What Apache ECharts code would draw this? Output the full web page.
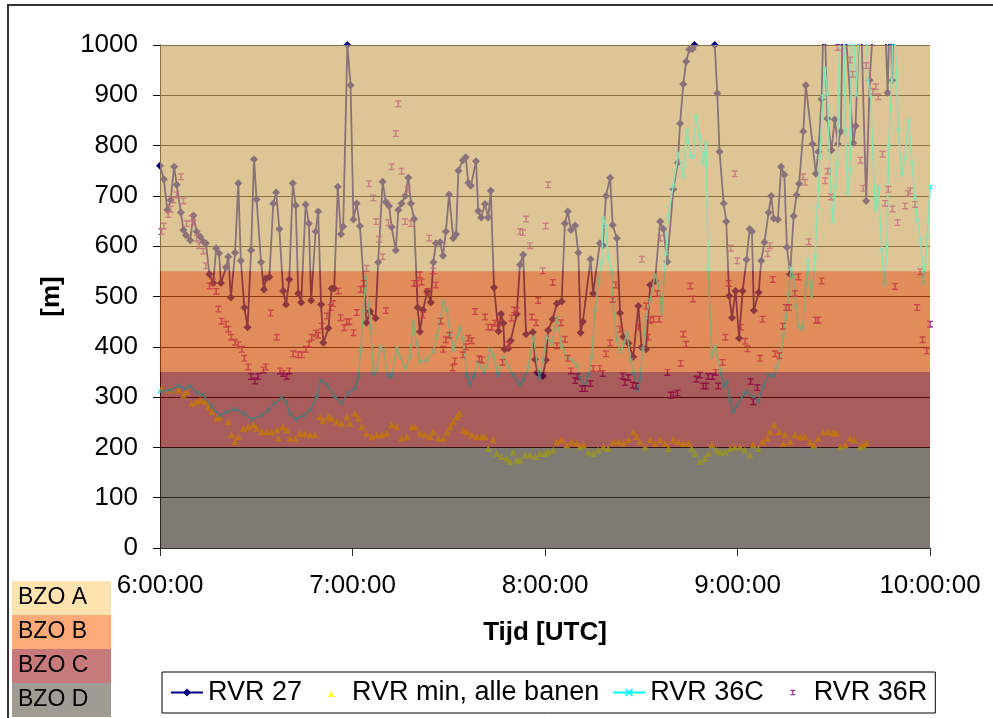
<!DOCTYPE html>
<html>
<head>
<meta charset="utf-8">
<script src="https://cdn.jsdelivr.net/npm/echarts@6/dist/echarts.min.js"></script>
<style>
  html, body { margin: 0; padding: 0; background: #fff; }
  #chart { width: 993px; height: 718px; }
</style>
</head>
<body>
<div id="chart"></div>
<script>
// Runway visual range, 06:00-10:00 UTC. X values are minutes after 06:00.
const rvr27 = [
  [0,760],[1.2,733],[2.3,672],[3.3,692],[4.4,758],[5.2,722],[6.5,667],[7.3,632],[8.1,622],[9.4,612],
  [10.4,661],[11.4,629],[12.5,619],[13.5,609],[14.3,606],[15.4,544],[16.6,527],[17.5,596],[18.4,586],[19.0,527],
  [20.6,558],[21.3,579],[22.1,498],[23.4,587],[24.4,725],[25.2,571],[26.3,478],[27.3,439],[28.4,592],[29.3,773],
  [30.1,693],[31.5,568],[32.4,514],[33.0,536],[34.1,539],[35.3,685],[36.2,707],[37.2,634],[38.4,511],[39.3,484],
  [40.3,534],[41.4,725],[42.3,681],[43.1,506],[44.0,488],[45.4,683],[46.4,645],[47.1,492],[48.5,629],[49.3,669],
  [50.2,484],[50.9,408],[52.5,437],[53.5,516],[54.3,516],[55.4,718],[56.4,624],[57.1,639],[58.4,1000],[59.4,920],
  [60.3,653],[61.3,685],[62.3,640],[64.4,448],[65.5,470],[67.2,457],[68.0,568],[69.4,728],[70.4,688],[71.4,680],
  [72.2,638],[73.5,592],[74.3,672],[75.3,685],[76.4,700],[77.4,736],[78.2,685],[79.2,654],[80.3,478],[81.0,430],
  [82.0,473],[83.3,510],[84.4,488],[85.2,568],[86.0,606],[87.3,608],[88.2,581],[89.1,629],[90.1,703],[91.4,616],
  [92.3,624],[93.0,750],[94.4,771],[95.3,777],[96.1,726],[96.9,720],[98.5,769],[99.2,670],[100.1,657],[101.3,684],
  [102.3,657],[103.1,710],[104.1,518],[105.5,431],[106.3,465],[107.0,447],[107.4,395],[108.6,397],[109.3,412],[111.2,465],
  [112.2,563],[113.2,583],[114.1,425],[116.2,429],[116.9,375],[117.6,349],[119.3,342],[120.3,374],[121.0,433],[122.4,455],
  [123.7,486],[125.2,490],[126.2,645],[127.1,669],[128.1,632],[129.4,641],[130.4,587],[131.1,428],[131.8,450],[134.2,574],
  [135.0,506],[137.1,606],[138.0,602],[139.0,700],[140.3,736],[141.1,642],[142.4,616],[143.4,467],[144.4,420],[146.0,407],
  [147.5,380],[149.1,481],[150.1,399],[151.5,395],[152.8,523],[154.3,531],[155.9,649],[156.9,634],[158.1,569],[160.0,713],
  [161.4,766],[162.1,844],[163.1,922],[164.0,967],[165.0,991],[166.0,992],[166.6,1000],[168.5,1150],[171.0,1150],[172.9,1000],
  [173.7,904],[174.4,788],[175.7,685],[176.5,649],[177.4,501],[178.3,458],[179.4,511],[180.5,417],[181.6,511],[182.8,573],
  [183.8,634],[184.5,629],[185.1,472],[186.6,508],[187.4,571],[188.4,608],[189.7,667],[190.5,700],[191.3,655],[192.6,653],
  [193.6,758],[194.6,742],[195.4,598],[196.4,544],[197.5,660],[198.4,702],[199.2,724],[200.5,828],[201.3,920],[203.4,803],
  [204.4,744],[205.2,788],[206.2,892],[207.0,1100],[208.0,854],[209.3,791],[210.3,852],[211.3,803],[212.2,828],[212.9,1100],
  [216.1,805],[216.8,839],[218.3,1100],[220.1,690],[221.2,930],[222.9,1100],[225.7,1100],[226.8,905],[227.5,1100],[228.2,930],
  [228.8,1100]
];

const rvrMin = [
  [0.5,317],[3.1,314],[5.7,314],[7.3,304],[8.3,311],[9.9,288],[11.4,291],[12.5,294],[14.0,291],[15.1,281],
  [16.1,271],[17.7,258],[18.7,261],[21.3,251],[22.3,225],[23.4,211],[24.4,221],[26.0,238],[27.5,241],[29.1,245],
  [30.1,238],[31.7,231],[33.3,231],[34.8,231],[36.4,235],[36.9,218],[38.2,241],[39.5,235],[40.5,218],[42.1,218],
  [43.6,228],[45.2,227],[46.8,225],[48.3,225],[49.9,261],[50.9,254],[52.5,261],[53.5,258],[55.1,251],[56.6,248],
  [58.2,261],[59.2,248],[60.8,268],[61.8,258],[62.9,241],[64.4,228],[66.0,221],[67.5,225],[69.1,225],[70.7,228],
  [72.2,245],[73.8,241],[75.3,218],[76.9,221],[78.5,241],[79.5,241],[81.0,228],[82.6,225],[84.2,221],[85.2,231],
  [86.7,218],[88.3,218],[89.4,231],[90.4,241],[91.4,251],[92.5,261],[93.3,268],[94.5,235],[95.6,231],[97.2,225],
  [98.7,221],[100.3,221],[101.3,221],[102.3,198],[103.9,215],[104.9,188],[106.5,182],[108.1,178],[109.1,172],[110.1,191],
  [111.2,175],[112.2,175],[113.8,185],[115.3,185],[116.9,182],[118.4,188],[120.0,188],[121.0,191],[122.6,195],[123.7,211],
  [125.2,215],[126.8,205],[128.3,211],[129.9,208],[130.9,201],[132.0,205],[133.5,191],[135.1,188],[136.6,195],[138.2,201],
  [139.7,198],[141.3,211],[142.9,211],[144.4,209],[146.0,215],[147.5,231],[148.6,221],[149.6,211],[151.2,201],[152.8,215],
  [154.3,208],[155.9,215],[157.5,208],[158.5,198],[160.0,215],[161.6,211],[163.1,208],[164.7,208],[165.7,198],[166.8,188],
  [168.3,172],[169.9,178],[170.9,188],[172.0,205],[173.4,195],[174.6,191],[176.1,191],[177.7,198],[179.2,201],[180.8,201],
  [182.3,195],[183.9,185],[184.9,205],[186.5,198],[187.8,211],[189.3,218],[190.1,231],[191.4,245],[193.0,231],[194.3,208],
  [194.8,225],[196.4,211],[197.9,225],[199.5,221],[201.0,221],[202.6,211],[203.8,205],[205.2,218],[206.7,231],[208.3,231],
  [209.9,229],[210.9,228],[212.0,201],[213.6,205],[215.1,218],[216.3,215],[218.2,201],[219.2,205],[220.1,209]
];

const rvr36C = [
  [0,311],[3.1,314],[5.7,322],[7.8,317],[9.4,322],[11.4,309],[13.5,304],[16.1,281],[18.7,264],[20.8,271],
  [23.4,276],[26.0,268],[28.6,256],[31.7,264],[33.8,274],[35.8,288],[37.9,299],[39.3,291],[40.5,268],[42.1,256],
  [44.7,263],[46.8,274],[48.8,301],[50.1,334],[52.0,324],[54.5,301],[56.6,288],[58.7,308],[60.8,317],[61.8,341],
  [62.6,394],[63.4,473],[64.2,539],[64.9,486],[65.7,440],[66.5,347],[67.5,354],[68.6,400],[69.6,394],[71.2,341],
  [72.2,341],[73.8,397],[74.8,380],[76.4,357],[77.9,380],[79.0,450],[80.0,407],[81.0,370],[83.1,374],[85.2,390],
  [86.2,420],[87.3,450],[88.3,490],[89.4,473],[90.4,427],[91.4,394],[92.5,420],[93.5,438],[94.5,414],[95.6,344],
  [96.6,324],[97.7,341],[99.2,370],[100.8,350],[101.8,360],[102.9,394],[103.9,380],[105.4,344],[107.0,380],[108.6,360],
  [110.1,344],[112.2,324],[113.2,334],[114.8,357],[116.4,420],[118.2,337],[119.3,374],[120.5,420],[122.1,407],[123.7,457],
  [125.2,400],[126.8,380],[128.3,374],[129.9,364],[130.9,337],[132.5,324],[133.5,344],[134.6,380],[135.6,473],[136.7,533],
  [137.7,569],[138.1,655],[139.0,640],[139.7,579],[140.8,549],[141.1,493],[142.4,414],[143.4,390],[144.6,407],[145.5,427],
  [146.7,374],[147.7,347],[148.8,314],[149.6,334],[150.5,394],[151.5,460],[152.8,493],[154.3,543],[155.3,526],[156.4,467],
  [157.7,586],[158.4,659],[159.9,720],[161.6,785],[163.1,738],[164.2,831],[165.4,778],[166.2,778],[167.1,859],[168.2,818],
  [169.3,765],[170.2,805],[170.9,553],[172.0,380],[173.0,400],[174.6,354],[175.7,321],[176.6,331],[177.7,294],[178.7,271],
  [179.9,284],[181.8,304],[182.8,311],[184.9,301],[186.5,291],[188.0,321],[189.6,344],[191.2,341],[192.2,360],[193.3,380],
  [194.3,423],[195.1,460],[195.9,506],[196.7,556],[197.4,539],[198.2,480],[199.0,440],[200.3,437],[201.4,526],[201.9,573],
  [203.1,500],[204.2,579],[204.9,679],[205.7,778],[206.6,897],[207.3,954],[208.0,904],[208.8,752],[209.7,649],[210.4,718],
  [211.1,765],[212.0,1100],[213.0,1100],[213.6,831],[214.3,705],[215.1,752],[215.7,1100],[217.0,900],[218.3,1100],[220.0,1100],
  [220.6,930],[221.5,900],[222.9,672],[223.9,718],[225.0,592],[225.8,526],[226.6,600],[227.1,798],[228.1,930],[228.5,1100],
  [229.6,943],[230.1,831],[231.2,742],[232.2,778],[233.3,851],[234.4,765],[235.3,698],[236.0,652],[237.1,612],[237.9,526],
  [239.2,619],[240,718]
];

const rvr36R = [
  [0.5,629],[1.2,640],[2.6,663],[3.3,674],[4.1,692],[5.2,702],[6.5,738],[7.3,690],[8.3,645],[9.9,655],
  [10.4,647],[11.4,616],[12.2,601],[13.5,590],[14.3,561],[15.4,521],[16.4,529],[17.5,510],[18.2,475],[19.2,451],
  [20.6,445],[21.3,435],[22.1,419],[23.4,409],[24.4,404],[25.5,395],[26.3,377],[27.5,360],[28.4,341],[29.6,332],
  [30.6,341],[32.2,354],[33.0,360],[34.5,467],[36.4,419],[37.4,352],[38.4,347],[39.5,341],[40.3,352],[41.5,386],
  [43.1,384],[44.2,384],[45.5,395],[46.5,405],[47.3,419],[48.6,427],[49.3,423],[50.4,441],[52.0,461],[53.2,478],
  [54.0,486],[55.6,511],[56.3,458],[57.4,438],[58.2,450],[59.0,450],[60.3,428],[61.3,468],[62.6,514],[63.4,526],
  [64.4,556],[65.1,724],[66.5,696],[67.3,649],[68.3,614],[69.4,579],[70.4,472],[71.2,647],[72.2,758],[73.5,824],
  [74.3,883],[75.3,749],[76.4,649],[77.2,713],[78.2,645],[79.2,526],[80.0,526],[81.0,543],[81.5,529],[82.0,463],
  [83.4,510],[83.9,616],[85.2,551],[86.0,523],[87.5,451],[88.3,395],[89.1,414],[90.2,423],[91.2,358],[91.9,372],
  [94.4,384],[95.4,400],[96.1,417],[97.2,412],[98.2,470],[99.5,376],[100.3,374],[101.3,459],[102.3,439],[103.4,439],
  [104.4,447],[105.5,448],[106.8,369],[108.6,404],[109.6,457],[110.4,473],[111.2,472],[112.2,629],[113.1,627],[114.1,654],
  [115.3,601],[115.9,459],[117.2,448],[117.9,492],[119.3,551],[120.2,640],[121.0,722],[122.4,528],[123.7,402],[125.0,448],
  [126.2,415],[127.1,377],[128.1,352],[129.4,333],[130.1,341],[131.5,317],[132.5,317],[134.2,327],[135.0,357],[137.1,357],
  [138.0,347],[139.0,386],[140.3,408],[141.1,494],[142.1,523],[143.4,435],[144.2,342],[144.9,329],[146.0,339],[147.3,324],
  [148.4,322],[149.1,440],[150.2,574],[151.5,481],[152.2,419],[152.8,453],[153.8,455],[155.0,506],[155.6,455],[155.9,616],
  [158.2,349],[159.2,304],[160.0,304],[161.3,308],[162.3,367],[163.1,425],[164.0,405],[165.3,521],[166.1,495],[167.2,336],
  [168.3,344],[169.3,322],[170.2,322],[170.9,341],[172.2,341],[173.2,349],[174.0,322],[175.3,369],[176.2,419],[177.2,526],
  [177.9,596],[179.2,744],[179.9,571],[181.0,439],[182.4,411],[183.1,396],[184.1,331],[184.9,291],[186.2,319],[187.0,377],
  [187.8,455],[189.4,585],[190.1,601],[191.0,534],[191.7,386],[193.0,382],[194.1,441],[195.1,478],[196.1,478],[197.9,506],
  [199.0,539],[200.4,738],[201.1,727],[202.2,609],[204.4,453],[205.2,453],[206.2,531],[207.3,730],[208.1,749],[209.1,698],
  [211.2,995],[215.1,970],[215.9,942],[218.3,771],[219.2,715],[220.1,959],[222.2,908],[223.1,917],[223.9,897],[225.2,783],
  [226.0,685],[227.0,713],[228.3,674],[229.1,520],[229.9,647],[232.2,680],[233.1,705],[233.8,710],[235.3,683],[236.0,478],
  [236.9,549],[237.7,414],[239.0,392],[240.0,445]
];

// Visibility categories (BZO) and their RVR limits in metres
const bzoNames  = ['BZO A', 'BZO B', 'BZO C', 'BZO D'];
const bzoLimits = [[550, 1000], [350, 550], [200, 350], [0, 200]];
const bzoKeyColors  = ['#ffe4b0', '#ffaa78', '#c87a7a', '#a09c94'];
const bzoBandColors = ['rgba(246,201,117,0.56)', 'rgba(249,99,13,0.56)', 'rgba(149,14,13,0.56)', 'rgba(76,67,53,0.56)'];

const xTicks = [0, 60, 120, 180, 240];
const yTicks = [0, 100, 200, 300, 400, 500, 600, 700, 800, 900, 1000];

const FONT = '"Liberation Sans", Arial, sans-serif';
// Marker shapes
const iBeam = 'path://M0,0H8V2H5V8H8V10H0V8H3V2H0Z';
const xMark = 'path://M0,1.5L1.5,0L5,3.5L8.5,0L10,1.5L6.5,5L10,8.5L8.5,10L5,6.5L1.5,10L0,8.5L3.5,5Z';
// Legend keys: small glyph centred in a 32x10 box (leading moveTo points set the box)
const triKey   = 'path://M0,0M32,10M12.5,9.5L16,3L19.5,9.5Z';
const iBeamKey = 'path://M0,0M32,10M13.6,2.2H18.4V3.4H16.6V6.6H18.4V7.8H13.6V6.6H15.4V3.4H13.6Z';

const chart = echarts.init(document.getElementById('chart'), null, { renderer: 'canvas' });

const graphics = [
  { type: 'rect', shape: { x: 8, y: 5, width: 1100, height: 1100 },
    style: { fill: 'none', stroke: '#333', lineWidth: 2 }, z: 100 }
];
bzoNames.forEach((n, i) => {
  const top = 581 + i * 34;
  graphics.push({ type: 'rect', shape: { x: 12, y: top, width: 99, height: 34 },
    style: { fill: bzoKeyColors[i] }, z: 90 });
  graphics.push({ type: 'text', x: 18, y: top + 17,
    style: { text: n, font: '23px ' + FONT, fill: '#000', verticalAlign: 'middle' }, z: 91 });
});

chart.setOption({
  animation: false,
  backgroundColor: '#ffffff',
  textStyle: { fontFamily: FONT },
  grid: { left: 160, right: 63, top: 45, bottom: 170, show: true,
          backgroundColor: '#c0c0c0', borderWidth: 0 },
  legend: {
    data: [
      { name: 'RVR 27' },
      { name: 'RVR min, alle banen', icon: triKey },
      { name: 'RVR 36C' },
      { name: 'RVR 36R', icon: iBeamKey }
    ],
    left: 162, top: 672, orient: 'horizontal',
    itemGap: 13, itemWidth: 32, itemHeight: 10,
    padding: [7, 8, 7, 8],
    borderColor: '#000', borderWidth: 1, backgroundColor: '#fff',
    textStyle: { fontSize: 27, color: '#000', fontFamily: FONT }
  },
  xAxis: {
    type: 'value', min: 0, max: 240, interval: 60,
    name: 'Tijd [UTC]', nameLocation: 'middle', nameGap: 72,
    nameTextStyle: { fontSize: 26, fontWeight: 'bold', color: '#000', fontFamily: FONT },
    axisLine: { lineStyle: { color: '#333', width: 1 } },
    axisTick: { show: true, length: 8, lineStyle: { color: '#333' } },
    axisLabel: { fontSize: 26, color: '#000', margin: 25, fontFamily: FONT,
                 formatter: v => xTicks.includes(v) ? (6 + v / 60) + ':00:00' : '' },
    splitLine: { show: false }
  },
  yAxis: {
    type: 'value', min: 0, max: 1000, interval: 100,
    name: '[m]', nameLocation: 'middle', nameGap: 95, nameRotate: 90,
    nameTextStyle: { fontSize: 26, fontWeight: 'bold', color: '#000', fontFamily: FONT },
    axisLine: { show: true, lineStyle: { color: '#000', width: 1 } },
    axisTick: { show: true, length: 7, lineStyle: { color: '#000' } },
    axisLabel: { fontSize: 26, color: '#000', margin: 22, fontFamily: FONT,
                 formatter: v => yTicks.includes(v) ? String(v) : '' },
    splitLine: { show: true, lineStyle: { color: '#000', width: 1 } }
  },
  graphic: graphics,
  series: [
    {
      name: 'RVR 27', type: 'line', data: rvr27, z: 2,
      symbol: 'diamond', symbolSize: 8, showAllSymbol: true,
      lineStyle: { color: '#000080', width: 1.8 },
      itemStyle: { color: '#000080' }
    },
    {
      name: 'RVR min, alle banen', type: 'scatter', data: rvrMin, z: 3,
      symbol: 'triangle', symbolSize: 7,
      itemStyle: { color: '#ffff00' }
    },
    {
      name: 'RVR 36C', type: 'line', data: rvr36C, z: 4,
      symbol: xMark, symbolSize: 5, showAllSymbol: true,
      lineStyle: { color: '#00ffff', width: 1.5 },
      itemStyle: { color: '#00ffff' }
    },
    {
      name: 'RVR 36R', type: 'scatter', data: rvr36R, z: 5,
      symbol: iBeam, symbolSize: [6, 7],
      itemStyle: { color: '#800080' }
    },
    {
      name: 'BZO', type: 'line', data: [], z: 10, silent: true,
      markArea: {
        silent: true, z: 10,
        data: bzoLimits.map((lim, i) => [
          { yAxis: lim[0], itemStyle: { color: bzoBandColors[i] } },
          { yAxis: lim[1] }
        ])
      }
    }
  ]
});
</script>
</body>
</html>
